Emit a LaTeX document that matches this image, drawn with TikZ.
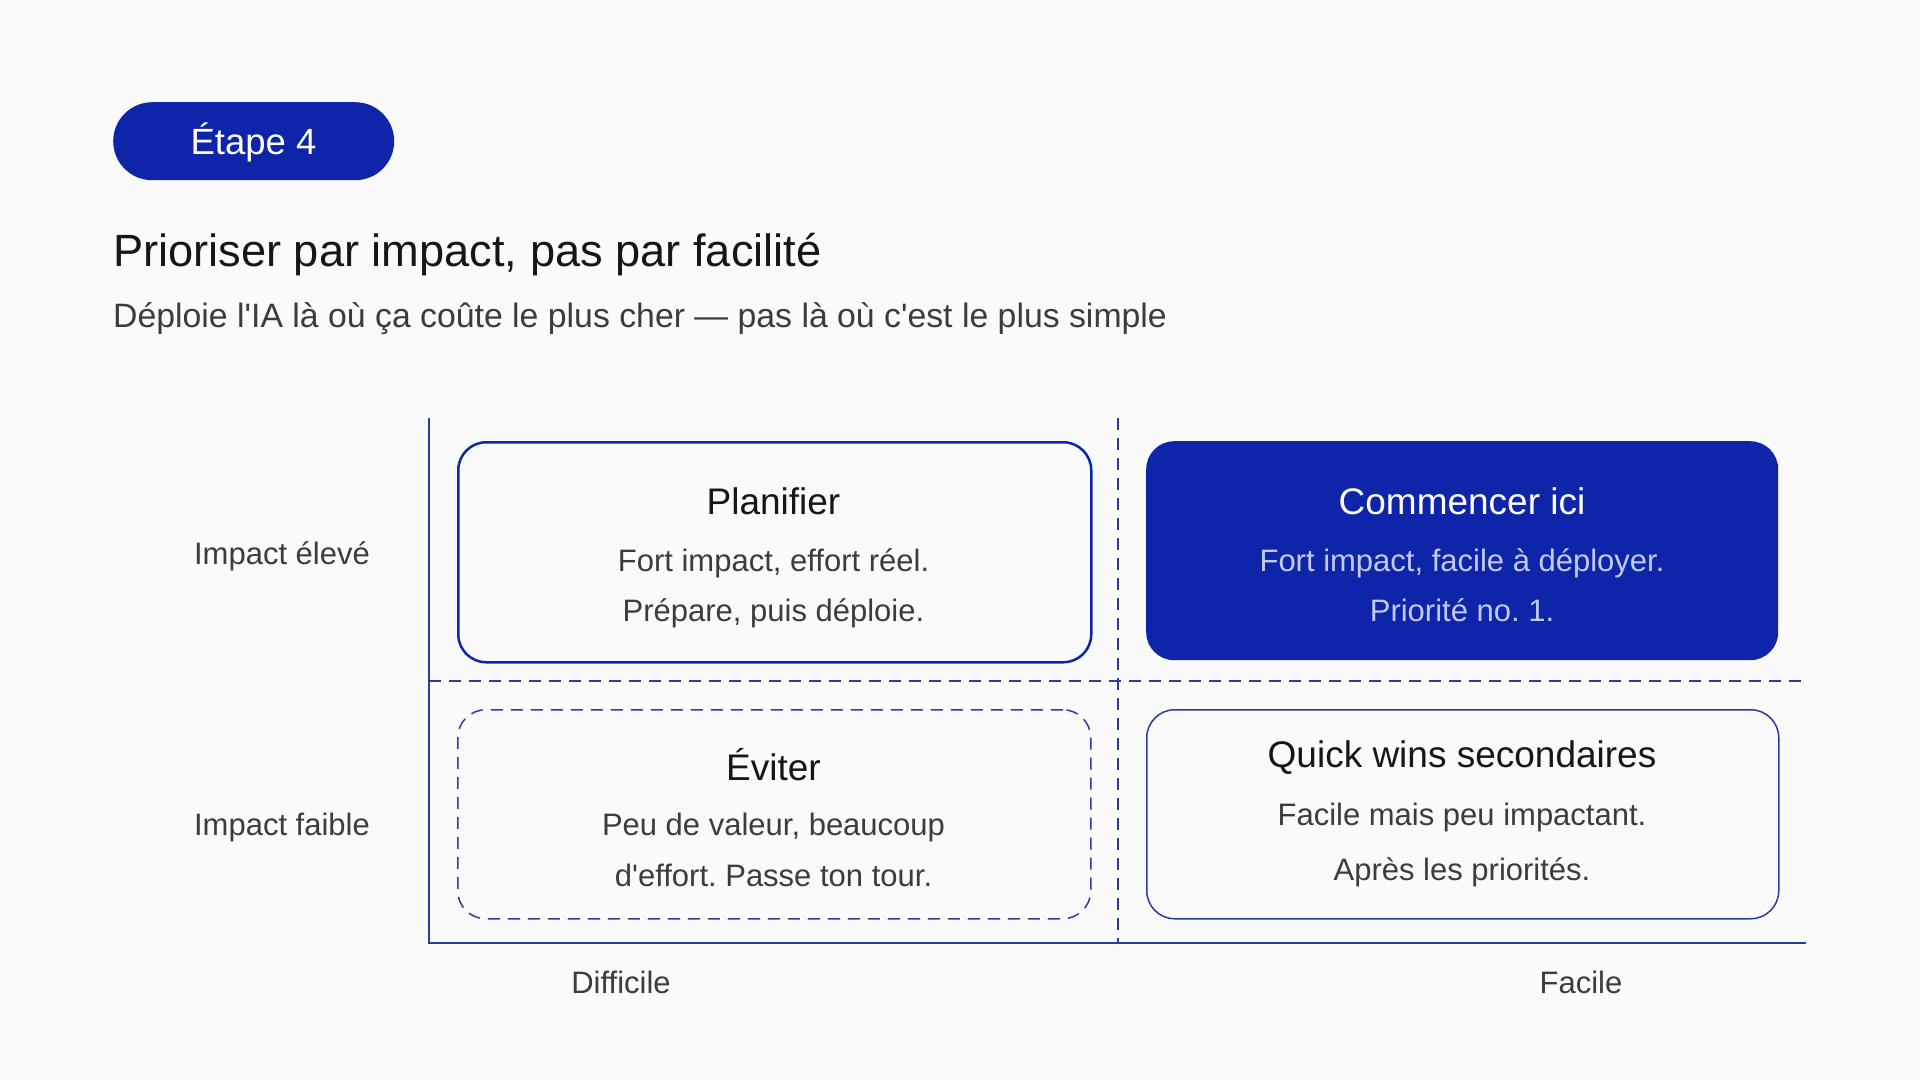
\documentclass[tikz,border=0pt]{standalone}
\usepackage{fontspec}
\setmainfont{Liberation Sans}[Ligatures=TeXOff]
\definecolor{bg}{HTML}{FAFAFA}
\definecolor{brand}{HTML}{0F25A9}
\definecolor{ink}{HTML}{161616}
\definecolor{bodytxt}{HTML}{3C3C3C}
\definecolor{soft}{HTML}{C3CAF2}
\definecolor{axis}{HTML}{2B3BA6}
\newcommand\fsz[1]{\fontsize{#1}{#1}\selectfont}
\tikzset{
  quad/.style={anchor=north west, inner sep=0pt, rounded corners=28pt, draw=brand},
  qtitle/.style={anchor=base, text=ink, font=\fsz{37}},
  qbody/.style={anchor=base, text=bodytxt, font=\fsz{31}},
  axlabel/.style={anchor=base, text=bodytxt, font=\fsz{31}},
  axisline/.style={draw=axis, line width=1.5pt},
  gridline/.style={draw=axis, line width=1.5pt, dash pattern=on 12pt off 8pt},
}
\frenchspacing
\begin{document}
\frenchspacing
\begin{tikzpicture}[x=1pt,y=-1pt]
\fill[bg] (0,0) rectangle (1920,1080);
\useasboundingbox (0,0) rectangle (1920,1080);

% badge and heading
\node[fill=brand, rounded corners=39pt, minimum width=281pt, minimum height=78pt, anchor=north west, inner sep=0pt] (badge) at (113,102) {};
\node[anchor=base, text=white, font=\fsz{36.5}] (badgetxt) at (253.5,154) {Étape 4};
\node[anchor=base west, inner sep=0pt, text=ink, font=\fsz{45.2}] (title) at (113,266) {Prioriser par impact, pas par facilité};
\node[anchor=base west, inner sep=0pt, text=bodytxt, font=\fsz{33.8}] (subtitle) at (113,327) {Déploie l'IA là où ça coûte le plus cher — pas là où c'est le plus simple};

% axes and grid
\coordinate (ytop) at (429,418);
\coordinate (orig) at (429,943);
\coordinate (xend) at (1806,943);
\coordinate (vtop) at (1118,418);
\coordinate (vbot) at (1118,943);
\coordinate (hl) at (429,681);
\coordinate (hr) at (1806,681);
\draw[gridline] (vtop) -- (vbot);
\draw[gridline] (hl) -- (hr);
\draw[axisline] (ytop) -- (orig) -- (xend);

% quadrants
\node[quad, line width=2.5pt, minimum width=633pt, minimum height=220pt] (plan) at (457,441) {};
\node[quad, fill=brand, draw=none, minimum width=632pt, minimum height=219pt] (start) at (1146,441) {};
\node[quad, line width=1.5pt, draw=axis, dash pattern=on 12pt off 8pt, minimum width=633pt, minimum height=209pt] (avoid) at (457,709) {};
\node[quad, line width=1.5pt, draw=axis, minimum width=632pt, minimum height=209pt] (quick) at (1146,709) {};

\node[qtitle] (plant) at (773.5,514) {Planifier};
\node[qbody] (plan1) at (773.5,571) {Fort impact, effort réel.};
\node[qbody] (plan2) at (773.5,621) {Prépare, puis déploie.};

\node[qtitle, text=white] (startt) at (1462,514) {Commencer ici};
\node[qbody, text=soft] (start1) at (1462,571) {Fort impact, facile à déployer.};
\node[qbody, text=soft] (start2) at (1462,621) {Priorité no. 1.};

\node[qtitle] (avoidt) at (773.5,780) {Éviter};
\node[qbody] (avoid1) at (773.5,835) {Peu de valeur, beaucoup};
\node[qbody] (avoid2) at (773.5,886) {d'effort. Passe ton tour.};

\node[qtitle] (quickt) at (1462,767) {Quick wins secondaires};
\node[qbody] (quick1) at (1462,825) {Facile mais peu impactant.};
\node[qbody] (quick2) at (1462,880) {Après les priorités.};

% axis labels
\node[axlabel] (hi) at (282,564) {Impact élevé};
\node[axlabel] (lo) at (282,835) {Impact faible};
\node[axlabel] (diff) at (621,993) {Difficile};
\node[axlabel] (easy) at (1581,993) {Facile};
\end{tikzpicture}
\end{document}
